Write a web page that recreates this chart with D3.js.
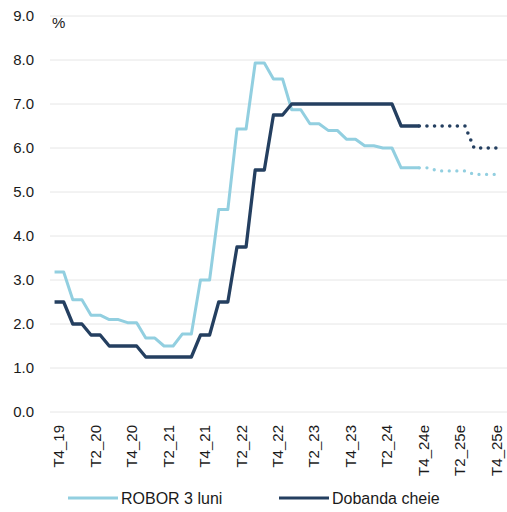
<!DOCTYPE html>
<meta charset="utf-8">
<script src="https://cdn.jsdelivr.net/npm/d3@7"></script>
<style>
body { margin: 0; background: #fff; }
text { font-family: "Liberation Sans", Arial, sans-serif; fill: #1a1a1a; }
.grid line { stroke: #e6e6e6; stroke-width: 1; }
</style>
<body>
<script>

// quarters on the x axis (one per category)
var quarters = ["T4_19", "T1_20", "T2_20", "T3_20", "T4_20", "T1_21", "T2_21", "T3_21",
  "T4_21", "T1_22", "T2_22", "T3_22", "T4_22", "T1_23", "T2_23", "T3_23", "T4_23",
  "T1_24", "T2_24", "T3_24", "T4_24e", "T1_25e", "T2_25e", "T3_25e", "T4_25e"];

// labels shown on the axis (every second quarter)
var tickLabels = ["T4_19", "T2_20", "T4_20", "T2_21", "T4_21", "T2_22", "T4_22",
  "T2_23", "T4_23", "T2_24", "T4_24e", "T2_25e", "T4_25e"];

var yTicks = [0, 1, 2, 3, 4, 5, 6, 7, 8, 9];

// ROBOR 3 luni, actual (T4_19 .. T3_24) and estimate (T4_24e .. T4_25e)
var robor = [3.18, 2.55, 2.2, 2.1, 2.03, 1.68, 1.5, 1.77, 3.0, 4.6, 6.43, 7.93,
  7.57, 6.87, 6.55, 6.4, 6.2, 6.05, 6.0, 5.55];
var roborEst = [5.55, 5.48, 5.48, 5.4, 5.4];

// Dobanda cheie, actual and estimate
var dobanda = [2.5, 2.0, 1.75, 1.5, 1.5, 1.25, 1.25, 1.25, 1.75, 2.5, 3.75, 5.5,
  6.75, 7.0, 7.0, 7.0, 7.0, 7.0, 7.0, 6.5];
var dobandaEst = [6.5, 6.5, 6.5, 6.0, 6.0];

var series = [
  {name: "ROBOR 3 luni", color: "#92cfe0", width: 3, actual: robor, est: roborEst},
  {name: "Dobanda cheie", color: "#243f60", width: 3.3, actual: dobanda, est: dobandaEst}
];

var width = 507, height = 512;
var plotLeft = 50, plotRight = 506, plotTop = 16, plotBottom = 412;

var svg = d3.select("body").append("svg")
    .attr("width", width)
    .attr("height", height);

var x = d3.scaleBand().domain(quarters).range([plotLeft, plotRight]);
var y = d3.scaleLinear().domain([0, 9]).range([plotBottom, plotTop]);

// grid lines
svg.append("g").attr("class", "grid")
  .selectAll("line")
  .data(yTicks)
  .enter().append("line")
    .attr("x1", plotLeft).attr("x2", width)
    .attr("y1", function(d) { return y(d); })
    .attr("y2", function(d) { return y(d); });

// y labels
svg.append("g")
  .selectAll("text")
  .data(yTicks)
  .enter().append("text")
    .attr("x", 34)
    .attr("y", function(d) { return y(d); })
    .attr("dy", "0.35em")
    .attr("text-anchor", "end")
    .style("font-size", "15px")
    .text(function(d) { return d.toFixed(1); });

svg.append("text")
    .attr("x", 52)
    .attr("y", 28)
    .style("font-size", "15px")
    .text("%");

// x labels, rotated
svg.append("g")
  .selectAll("text")
  .data(tickLabels)
  .enter().append("text")
    .attr("transform", function(d) {
      return "translate(" + (x(d) + x.bandwidth() / 2 + 5) + ",425) rotate(-90)";
    })
    .attr("text-anchor", "end")
    .style("font-size", "15px")
    .text(function(d) { return d; });

// each quarter is drawn as a flat step, then a slope to the next quarter
function stepPoints(values) {
  var pts = [];
  values.forEach(function(v, i) {
    var c = x(quarters[i]) + x.bandwidth() / 2;
    pts.push([c - x.bandwidth() / 4, y(v)]);
    pts.push([c + x.bandwidth() / 4, y(v)]);
  });
  return pts;
}

var line = d3.line();

series.forEach(function(s) {
  var all = stepPoints(s.actual.concat(s.est));
  var n = s.actual.length * 2;
  var solid = all.slice(0, n + 1);
  var dotted = all.slice(n);

  svg.append("path")
      .attr("d", line(solid))
      .attr("fill", "none")
      .attr("stroke", s.color)
      .attr("stroke-width", s.width)
      .attr("stroke-linejoin", "round");

  svg.append("path")
      .attr("d", line(dotted))
      .attr("fill", "none")
      .attr("stroke", s.color)
      .attr("stroke-width", s.width + 0.3)
      .attr("stroke-linecap", "round")
      .attr("stroke-dasharray", "0 7.6");
});

// legend
var legend = svg.append("g");
var legendX = [68, 279];
series.forEach(function(s, i) {
  legend.append("line")
      .attr("x1", legendX[i]).attr("x2", legendX[i] + 50)
      .attr("y1", 498).attr("y2", 498)
      .attr("stroke", s.color)
      .attr("stroke-width", 3);
  legend.append("text")
      .attr("x", legendX[i] + 53)
      .attr("y", 503.5)
      .style("font-size", "16px")
      .text(s.name);
});

</script>
</body>
